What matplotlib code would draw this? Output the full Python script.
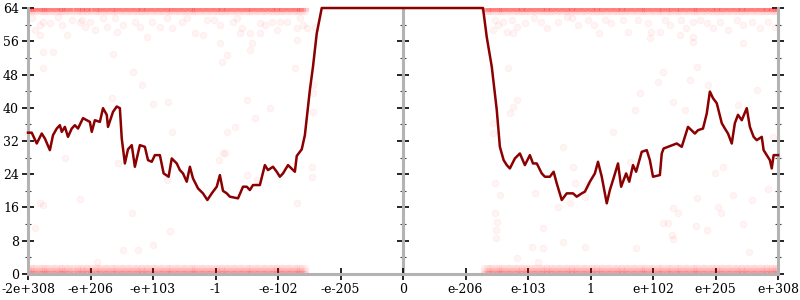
import matplotlib
matplotlib.use("Agg")
import matplotlib.pyplot as plt
from matplotlib.ticker import MultipleLocator

# tick positions / labels (evenly spaced ordinal axis)
tick_pos = [-6, -5, -4, -3, -2, -1, 0, 1, 2, 3, 4, 5, 6]
tick_labels = ["-2e+308", "-e+206", "-e+103", "-1", "-e-102", "-e-205", "0",
               "e-206", "e-103", "1", "e+102", "e+205", "e+308"]

# averaged error line
line_x = [-6.00, -5.94, -5.86, -5.78, -5.73, -5.65, -5.60, -5.54, -5.49, -5.46,
          -5.41, -5.36, -5.30, -5.25, -5.20, -5.12, -5.06, -5.01, -4.98, -4.93,
          -4.85, -4.80, -4.74, -4.72, -4.64, -4.58, -4.53, -4.50, -4.45, -4.40,
          -4.34, -4.29, -4.21, -4.13, -4.08, -4.02, -3.97, -3.89, -3.83, -3.75,
          -3.70, -3.62, -3.57, -3.52, -3.46, -3.41, -3.36, -3.28, -3.20, -3.13,
          -3.06, -2.98, -2.93, -2.88, -2.82, -2.77, -2.64, -2.56, -2.50, -2.45,
          -2.40, -2.29, -2.21, -2.16, -2.08, -2.02, -1.97, -1.92, -1.84, -1.73,
          -1.70, -1.62, -1.57, -1.49, -1.44, -1.38, -1.30, 1.28, 1.34, 1.42,
          1.50, 1.55, 1.61, 1.66, 1.71, 1.79, 1.87, 1.95, 2.03, 2.08,
          2.14, 2.22, 2.27, 2.35, 2.41, 2.46, 2.54, 2.62, 2.72, 2.78,
          2.86, 2.91, 2.99, 3.07, 3.12, 3.18, 3.26, 3.31, 3.36, 3.44,
          3.49, 3.57, 3.62, 3.68, 3.73, 3.82, 3.90, 3.95, 4.00, 4.11,
          4.14, 4.17, 4.38, 4.46, 4.56, 4.67, 4.72, 4.80, 4.86, 4.91,
          4.96, 5.02, 5.10, 5.15, 5.20, 5.26, 5.31, 5.36, 5.42, 5.50,
          5.55, 5.61, 5.66, 5.74, 5.77, 5.87, 5.90, 5.93, 6.00]
line_y = [34.0, 34.0, 31.4, 33.8, 32.6, 29.8, 33.4, 35.0, 35.8, 34.2,
          35.4, 33.0, 35.0, 35.8, 35.0, 37.5, 37.0, 36.6, 34.2, 37.0,
          36.6, 39.9, 38.3, 35.4, 39.0, 40.3, 39.9, 32.6, 26.6, 30.0,
          31.0, 25.8, 31.0, 30.6, 27.4, 27.0, 28.6, 28.6, 24.2, 23.4,
          27.8, 26.6, 25.0, 24.2, 22.2, 25.8, 23.0, 20.6, 19.4, 17.8,
          19.4, 21.0, 23.8, 20.0, 19.4, 18.6, 18.2, 21.0, 21.0, 20.2,
          21.4, 21.4, 26.2, 25.0, 25.8, 24.6, 23.4, 24.2, 26.2, 24.6,
          28.4, 30.0, 33.4, 44.3, 49.9, 57.9, 64.0, 64.0, 57.0, 49.9,
          39.5, 30.6, 27.4, 26.2, 25.4, 27.8, 29.0, 26.2, 28.6, 26.6,
          26.6, 24.2, 23.4, 23.4, 24.6, 21.8, 17.8, 19.4, 19.4, 18.6,
          19.4, 19.8, 22.2, 24.2, 27.0, 23.4, 17.0, 20.2, 22.6, 26.6,
          21.0, 24.2, 22.2, 26.2, 24.6, 29.4, 29.8, 27.4, 23.4, 23.8,
          29.0, 30.2, 31.4, 30.6, 35.4, 33.8, 34.6, 35.0, 38.6, 43.9,
          42.3, 41.1, 36.3, 35.0, 33.8, 31.4, 36.3, 38.3, 37.0, 39.9,
          35.4, 33.0, 32.2, 33.0, 29.8, 27.4, 25.4, 28.6, 28.6]

# scattered sample points
cloud_x = [-5.76, -5.60, -5.76, -4.66, -4.64, -4.32, -4.18, -4.00, -3.70, -3.76,
           -5.89, -5.81, -5.76, -5.41, -5.17, -4.90, -4.56, -4.48, -4.34, -4.24,
           -4.00, -3.78, -3.73, -2.93, -2.90, -2.82, -2.42, -2.45, -1.70, -1.73,
           -2.50, -2.13, -2.37, -2.69, -2.82, -1.44, -1.44, -1.44, -1.46, -1.46,
           -1.70, -2.50, -2.34, -2.85, -2.95, -2.88,
           1.47, 1.55, 1.47, 1.50, 1.49, 1.49, 1.82, 2.06, 2.24, 2.24,
           2.11, 2.16, 2.48, 2.56, 2.75, 2.72, 2.91, 2.91, 2.67, 1.44,
           1.44, 1.71, 1.76, 1.82, 1.68, 4.16, 4.08, 4.70, 4.59, 3.79,
           3.71, 4.32, 4.51, 4.88, 5.66, 5.36, 5.92, 3.36, 5.44, 4.64,
           3.95, 3.63, 4.99, 5.12, 5.28, 5.58, 4.70, 4.32, 4.40, 4.16,
           4.24, 4.30, 4.32, 4.69, 4.86, 5.04, 5.09, 5.44, 5.54, 3.73,
           5.84, 2.56, 2.94]
cloud_y = [53.4, 53.4, 49.6, 42.3, 53.0, 48.6, 45.5, 41.0, 34.2, 41.4,
           11.0, 17.0, 16.6, 27.9, 18.0, 2.9, 26.7, 5.8, 14.7, 5.8,
           7.0, 22.6, 10.3, 55.6, 51.0, 52.7, 55.6, 53.9, 56.3, 49.6,
           41.9, 39.9, 37.5, 35.4, 34.2, 45.5, 43.5, 39.0, 25.7, 23.4,
           17.0, 23.8, 22.6, 29.0, 27.4, 29.0,
           21.9, 19.0, 14.7, 12.5, 10.6, 8.7, 3.8, 6.5, 11.0, 6.3,
           19.5, 2.9, 16.1, 7.7, 21.9, 25.8, 6.5, 18.5, 17.0, 36.3,
           33.9, 38.7, 40.2, 41.9, 49.6, 48.6, 46.2, 49.8, 46.7, 43.5,
           39.5, 41.4, 39.5, 45.5, 44.3, 40.7, 33.0, 34.2, 55.6, 55.8,
           56.8, 27.0, 24.3, 25.8, 19.0, 17.8, 18.3, 15.9, 14.7, 12.3,
           12.3, 9.4, 8.4, 11.5, 10.6, 16.1, 14.7, 12.0, 5.3, 6.3,
           20.5, 30.6, 21.4]

# points just below the 64-bit ceiling
near_top_x = [-5.93, -5.81, -5.89, -5.76, -5.65, -5.52, -5.46, -5.38, -5.30, -5.17,
              -5.14, -5.09, -5.01, -4.93, -4.80, -4.74, -4.61, -4.58, -4.48, -4.29,
              -4.21, -4.10, -4.01, -3.89, -3.78, -3.70, -3.54, -3.46, -3.33, -5.81,
              -3.14, -3.02, -2.93, -2.72, -2.66, -2.58, -2.29, -2.21, -2.10, -1.97,
              -1.86, -1.65, -1.60, -1.54, -1.41, -1.69, -2.02, -2.29, -2.61, -3.20,
              -2.45,
              1.47, 1.52, 1.60, 1.66, 1.74, 1.82, 1.44, 1.76, 1.95, 2.10,
              2.31, 2.48, 2.62, 2.80, 2.96, 3.23, 3.33, 3.52, 3.60, 3.76,
              3.92, 3.97, 4.11, 4.19, 4.27, 4.45, 4.53, 4.64, 4.75, 4.86,
              4.96, 5.07, 5.20, 5.34, 5.44, 5.58, 5.71, 5.84, 5.95, 3.14,
              4.64, 4.43, 2.20, 2.70, 3.05]
near_top_y = [61.6, 59.9, 58.7, 60.6, 60.4, 61.8, 59.9, 57.5, 61.1, 60.6,
              61.1, 59.4, 60.6, 58.7, 61.6, 59.4, 61.6, 58.2, 59.9, 60.6,
              59.4, 57.0, 60.6, 59.4, 61.6, 59.2, 60.6, 61.6, 58.0, 57.5,
              61.1, 61.1, 59.9, 60.6, 61.6, 59.2, 60.4, 59.9, 60.6, 60.6,
              60.6, 61.6, 59.9, 59.2, 59.4, 59.2, 58.7, 58.0, 58.0, 57.5,
              58.0,
              61.1, 59.9, 60.6, 58.2, 61.1, 59.4, 58.7, 58.0, 60.4, 61.6,
              59.2, 60.6, 61.8, 59.9, 61.1, 61.1, 60.4, 61.1, 58.2, 61.1,
              60.4, 58.2, 58.2, 61.1, 59.9, 61.1, 59.2, 60.6, 61.1, 60.4,
              59.2, 60.6, 58.7, 61.1, 59.9, 60.6, 59.2, 60.6, 59.4, 58.0,
              57.0, 57.5, 60.6, 61.6, 59.9]

# dense bands of points sitting at 64 bits and at 0 bits
band_left_x = [-6.00, -5.97, -5.94, -5.90, -5.87, -5.83, -5.79, -5.76, -5.73, -5.70,
               -5.66, -5.62, -5.58, -5.55, -5.51, -5.48, -5.45, -5.41, -5.37, -5.34,
               -5.30, -5.26, -5.22, -5.19, -5.16, -5.12, -5.08, -5.05, -5.01, -4.97,
               -4.93, -4.90, -4.86, -4.83, -4.79, -4.75, -4.72, -4.68, -4.64, -4.61,
               -4.57, -4.53, -4.50, -4.46, -4.42, -4.39, -4.35, -4.31, -4.28, -4.24,
               -4.20, -4.17, -4.13, -4.09, -4.06, -4.02, -3.98, -3.95, -3.91, -3.87,
               -3.84, -3.80, -3.76, -3.73, -3.69, -3.65, -3.62, -3.58, -3.54, -3.51,
               -3.47, -3.43, -3.40, -3.36, -3.33, -3.29, -3.25, -3.22, -3.18, -3.14,
               -3.11, -3.07, -3.03, -3.00, -2.96, -2.92, -2.89, -2.85, -2.81, -2.78,
               -2.74, -2.70, -2.67, -2.63, -2.59, -2.56, -2.52, -2.48, -2.45, -2.41,
               -2.37, -2.34, -2.30, -2.26, -2.23, -2.19, -2.15, -2.12, -2.08, -2.04,
               -2.01, -1.97, -1.93, -1.90, -1.86, -1.82, -1.79, -1.75, -1.72, -1.68,
               -1.65, -1.61, -1.57]
band_right_x = [1.30, 1.34, 1.37, 1.41, 1.44, 1.48, 1.52, 1.55, 1.59, 1.62,
                1.66, 1.70, 1.73, 1.77, 1.81, 1.84, 1.88, 1.91, 1.95, 1.99,
                2.02, 2.06, 2.10, 2.13, 2.17, 2.20, 2.24, 2.28, 2.31, 2.35,
                2.39, 2.42, 2.46, 2.50, 2.53, 2.57, 2.61, 2.64, 2.68, 2.71,
                2.75, 2.79, 2.82, 2.86, 2.90, 2.93, 2.97, 3.00, 3.04, 3.08,
                3.11, 3.15, 3.19, 3.22, 3.26, 3.29, 3.33, 3.37, 3.40, 3.44,
                3.48, 3.51, 3.55, 3.58, 3.62, 3.66, 3.69, 3.73, 3.77, 3.80,
                3.84, 3.87, 3.91, 3.95, 3.98, 4.02, 4.06, 4.09, 4.13, 4.16,
                4.20, 4.24, 4.27, 4.31, 4.35, 4.38, 4.42, 4.45, 4.49, 4.53,
                4.56, 4.60, 4.64, 4.67, 4.71, 4.74, 4.78, 4.82, 4.85, 4.89,
                4.93, 4.96, 5.00, 5.03, 5.07, 5.11, 5.14, 5.18, 5.22, 5.25,
                5.29, 5.32, 5.36, 5.40, 5.43, 5.47, 5.51, 5.54, 5.58, 5.61,
                5.65, 5.69, 5.72, 5.76, 5.80, 5.83, 5.87, 5.90, 5.94, 5.97,
                6.00]
band_levels = [64.0, 64.0, 64.0, 63.4, 1.4, 0.6, 0.0, 0.0]

plt.rcParams['font.family'] = ['DejaVu Serif']
fig = plt.figure(figsize=(8, 3), dpi=100)
ax = fig.add_axes([0.035, 0.0867, 0.9375, 0.8866])

pt_style = dict(s=22, color='red', alpha=0.045, linewidths=0.8, zorder=2)
for lvl in band_levels:
    ax.scatter(band_left_x, [lvl] * len(band_left_x), **pt_style)
    ax.scatter(band_right_x, [lvl] * len(band_right_x), **pt_style)
ax.scatter(near_top_x, near_top_y, **pt_style)
ax.scatter(cloud_x, cloud_y, **pt_style)

ax.plot(line_x, line_y, color='#8b0000', lw=1.8, zorder=3, clip_on=False)

ax.set_xlim(-6, 6)
ax.set_ylim(0, 64)
ax.set_xticks(tick_pos)
ax.set_xticklabels(tick_labels)
ax.yaxis.set_major_locator(MultipleLocator(8))
ax.yaxis.set_minor_locator(MultipleLocator(4))

axis_grey = '#b3b3b3'
for side in ['left', 'right', 'bottom']:
    ax.spines[side].set_color(axis_grey)
    ax.spines[side].set_linewidth(2.2)
ax.spines['top'].set_visible(False)

ax.tick_params(axis='both', which='major', direction='inout', length=9, width=1.2,
               color='black', labelsize=9, pad=2)
ax.tick_params(axis='y', which='minor', direction='inout', length=5, width=0.8, color='#444444')
ax.tick_params(axis='y', which='both', right=True)

# middle axis at x = 0
mid = ax.secondary_yaxis(0.5)
mid.yaxis.set_major_locator(MultipleLocator(8))
mid.yaxis.set_minor_locator(MultipleLocator(4))
mid.tick_params(axis='y', which='major', direction='inout', length=9, width=1.2,
                color='black', labelleft=False, labelright=False)
mid.tick_params(axis='y', which='minor', direction='inout', length=5, width=0.8, color='#444444')
for sp in mid.spines.values():
    sp.set_color(axis_grey)
    sp.set_linewidth(2.2)

fig.savefig("out.png", dpi=100)
